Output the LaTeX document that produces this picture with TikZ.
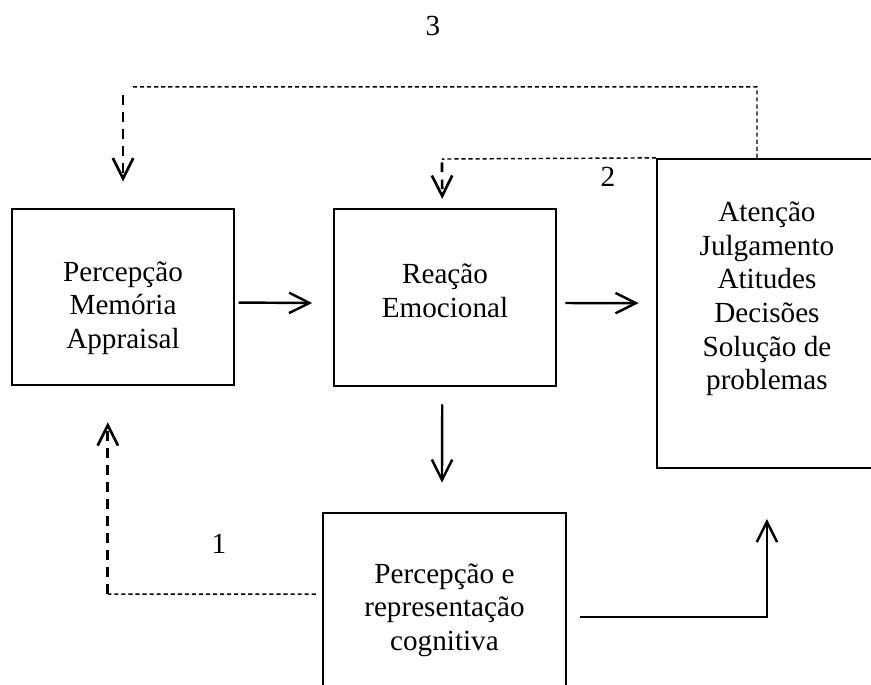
\documentclass[tikz,border=0pt]{standalone}
\usepackage{fontspec}
\setmainfont{Liberation Serif}
\usetikzlibrary{arrows.meta, positioning, calc}

\tikzset{
  caixa/.style={draw, line width=0.9pt, inner sep=0pt},
  texto/.style={align=center, font=\fontsize{12}{13.8}\selectfont},
  ponta/.style={-{Straight Barb[length=8.4pt, width=8.4pt]}},
  seta/.style={ponta, line width=1pt},
  retfino/.style={dash pattern=on 1.7pt off 1.2pt, line width=0.6pt},
  retgrosso/.style={dash pattern=on 4pt off 3pt, line width=1.1pt},
}

\begin{document}
\begin{tikzpicture}
        % Area
        \clip (0,0) rectangle (12.595,9.891);

        % Caixas
        \node[caixa, minimum width=3.21cm, minimum height=2.55cm] (perc) at (1.779,5.596) {};
        \node[caixa, minimum width=3.21cm, minimum height=2.56cm] (reac) at (6.435,5.589) {};
        \node[caixa, minimum width=3.18cm, minimum height=4.47cm] (aten) at (11.09,5.357) {};
        \node[caixa, minimum width=3.51cm, minimum height=2.81cm] (cogn) at (6.427,1.070) {};

        % Textos
        \node[texto] (perc-t) at ([yshift=-0.16cm]perc.center) {Percepção\\Memória\\Appraisal};
        \node[texto] (reac-t) at ([yshift=0.10cm]reac.center) {Reação\\Emocional};
        \node[texto] (aten-t) at ([yshift=0.21cm]aten.center) {Atenção\\Julgamento\\Atitudes\\Decisões\\Solução de\\problemas};
        \node[texto] (cogn-t) at (cogn.center) {Percepção e\\representação\\cognitiva};

        % Setas
        \draw[seta] ([xshift=0.05cm,yshift=-0.08cm]perc.east) -- ([xshift=-0.30cm,yshift=-0.08cm]reac.west);
        \draw[seta] ([xshift=0.12cm,yshift=-0.08cm]reac.east) -- ([xshift=-0.25cm,yshift=0.15cm]aten.west);
        \draw[seta] ([xshift=-0.04cm,yshift=-0.25cm]reac.south) -- ([xshift=-0.036cm,yshift=0.42cm]cogn.north);
        \draw[seta] ([xshift=0.19cm,yshift=-0.10cm]cogn.east) -| ([yshift=-0.72cm]aten.south);

        % Retorno 1
        \coordinate (q1) at (1.559,1.301);
        \draw[retfino] ([xshift=-0.09cm,yshift=0.23cm]cogn.west) -- (q1);
        \draw[ponta, retgrosso] (q1) -- ([xshift=-0.22cm,yshift=-0.52cm]perc.south);
        \node[texto] (n1) at (3.167,2.024) {1};

        % Retorno 2
        \coordinate (q2) at (6.391,7.591);
        \draw[retfino] (aten.north west) -- (q2);
        \draw[ponta, retgrosso] ([yshift=-0.05cm]q2) -- ([xshift=-0.04cm,yshift=0.13cm]reac.north);
        \node[texto] (n2) at (8.792,7.331) {2};

        % Retorno 3
        \coordinate (q3a) at (10.946,8.633);
        \coordinate (q3b) at (1.880,8.633);
        \coordinate (q3c) at (1.779,8.517);
        \draw[retfino] ([xshift=-0.144cm]aten.north) -- (q3a) -- (q3b);
        \draw[ponta, retgrosso] (q3c) -- ([yshift=0.38cm]perc.north);
        \node[texto] (n3) at (6.261,9.515) {3};

\end{tikzpicture}
\end{document}
